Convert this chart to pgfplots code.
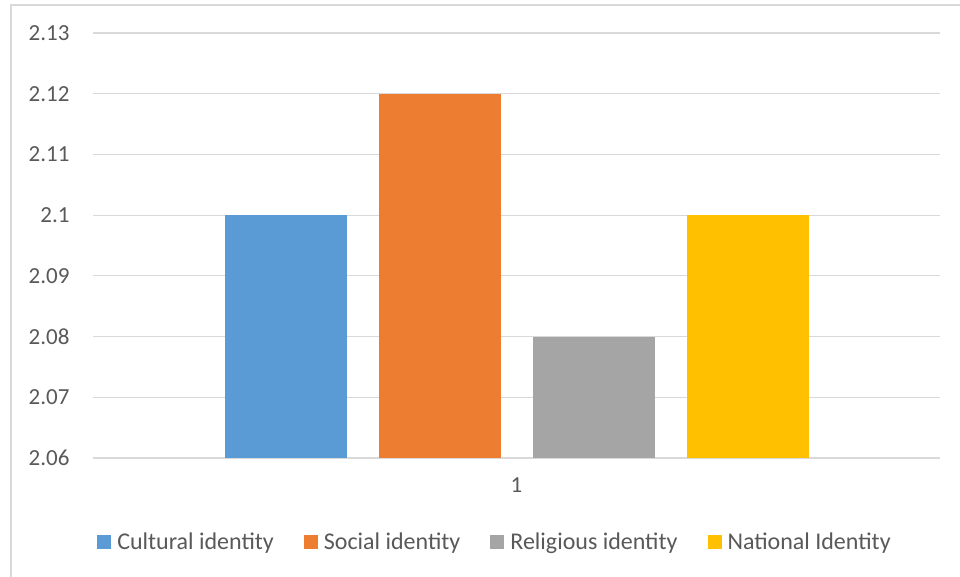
\documentclass[border=0pt]{standalone}
\usepackage{fontspec}
\setmainfont{Carlito}
\usepackage{pgfplots}
\pgfplotsset{compat=1.18}
\definecolor{cblue}{HTML}{5B9BD5}
\definecolor{corange}{HTML}{ED7D31}
\definecolor{cgray}{HTML}{A5A5A5}
\definecolor{cyellow}{HTML}{FFC000}
\definecolor{gridc}{HTML}{D9D9D9}
\definecolor{txt}{HTML}{595959}
\begin{document}
\begin{tikzpicture}[x=1pt,y=1pt]
\path[use as bounding box] (0,0) rectangle (960,577);
\draw[gridc, line width=1.5pt] (11,0) -- (11,572) -- (962,572);
\begin{axis}[
    at={(93pt,119pt)}, anchor=south west,
    scale only axis, width=847pt, height=425pt,
    ybar=32pt, bar width=122pt,
    xmin=-1, xmax=1,
    ymin=2.06, ymax=2.13,
    ytick distance=0.01,
    xtick={0}, xticklabels={1},
    ymajorgrids, grid style={gridc, line width=1.2pt},
    axis line style={draw=none},
    major tick style={draw=none},
    tick label style={font=\fontsize{23}{27}\selectfont, text=txt},
    /pgf/number format/assume math mode=true,
    yticklabel style={xshift=-20pt},
    xticklabel style={yshift=-12pt},
    legend columns=4,
    legend style={at={(0.4746,-0.1976)}, anchor=center, draw=none,
        font=\fontsize{24}{28}\selectfont, text=txt,
        /tikz/every odd column/.append style={column sep=4pt},
        /tikz/every even column/.append style={column sep=28pt}},
    legend image code/.code={\fill[#1] (0pt,-7pt) rectangle (14pt,7pt);},
]
\addplot[fill=cblue, draw=none] coordinates {(0,2.10)};
\addlegendentry{Cultural identity}
\addplot[fill=corange, draw=none] coordinates {(0,2.12)};
\addlegendentry{Social identity}
\addplot[fill=cgray, draw=none] coordinates {(0,2.08)};
\addlegendentry{Religious identity}
\addplot[fill=cyellow, draw=none] coordinates {(0,2.10)};
\addlegendentry{National Identity}
\end{axis}
\end{tikzpicture}
\end{document}
